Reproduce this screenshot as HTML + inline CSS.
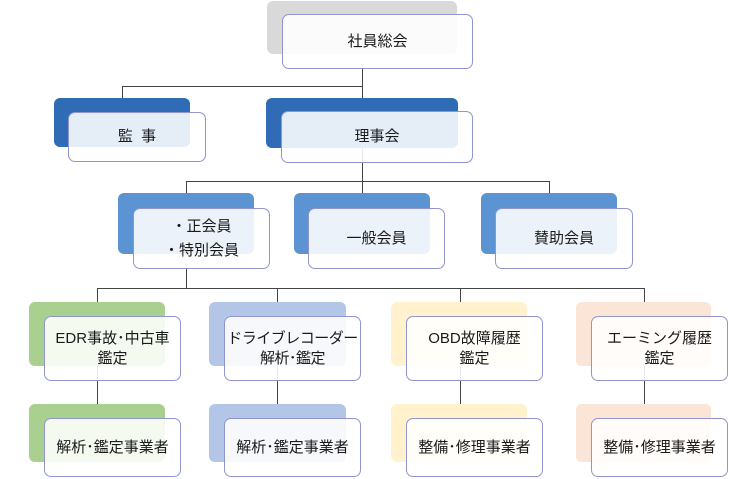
<!DOCTYPE html>
<html><head><meta charset="utf-8"><style>
body{margin:0;width:754px;height:479px;background:#fff;position:relative;overflow:hidden;font-family:"Liberation Sans","Noto Sans CJK JP",sans-serif;}
.b{position:absolute;border-radius:6px;}
.w{position:absolute;border-radius:7px;background:rgba(255,255,255,0.88);border:1.3px solid #9095d0;box-sizing:border-box;display:flex;align-items:center;justify-content:center;text-align:center;font-size:15px;line-height:20px;color:#1a1a1a;}
.l{position:absolute;background:#444;}
</style></head><body>
<div class="l" style="left:362px;top:69px;width:1px;height:124px"></div>
<div class="l" style="left:122px;top:86px;width:241px;height:1px"></div>
<div class="l" style="left:122px;top:86px;width:1px;height:12px"></div>
<div class="l" style="left:186px;top:181px;width:364px;height:1px"></div>
<div class="l" style="left:186px;top:181px;width:1px;height:12px"></div>
<div class="l" style="left:549px;top:181px;width:1px;height:12px"></div>
<div class="l" style="left:186px;top:269px;width:1px;height:20px"></div>
<div class="l" style="left:97px;top:288px;width:548px;height:1px"></div>
<div class="l" style="left:97px;top:288px;width:1px;height:130px"></div>
<div class="l" style="left:277px;top:288px;width:1px;height:130px"></div>
<div class="l" style="left:460px;top:288px;width:1px;height:130px"></div>
<div class="l" style="left:644px;top:288px;width:1px;height:130px"></div>

<div class="b" style="left:267px;top:1px;width:190px;height:53px;background:#d9d9d9"></div>
<div class="w" style="left:282px;top:14px;width:191px;height:55px">社員総会</div>

<div class="b" style="left:54px;top:98px;width:136px;height:49px;background:#2f6cb5"></div>
<div class="w" style="left:68px;top:112px;width:138px;height:50px">監&nbsp;&nbsp;事</div>
<div class="b" style="left:266px;top:98px;width:192px;height:50px;background:#2f6cb5"></div>
<div class="w" style="left:281px;top:111px;width:192px;height:52px">理事会</div>

<div class="b" style="left:118px;top:193px;width:136px;height:61px;background:#5b93d3"></div>
<div class="w" style="left:133px;top:208px;width:137px;height:61px;line-height:24px">・正会員<br>・特別会員</div>
<div class="b" style="left:294px;top:193px;width:136px;height:61px;background:#5b93d3"></div>
<div class="w" style="left:308px;top:208px;width:137px;height:61px">一般会員</div>
<div class="b" style="left:481px;top:193px;width:136px;height:61px;background:#5b93d3"></div>
<div class="w" style="left:495px;top:208px;width:138px;height:61px">賛助会員</div>

<div class="b" style="left:29px;top:302px;width:136px;height:64px;background:#a9d08e"></div>
<div class="w" style="left:44px;top:316px;width:137px;height:65px">EDR事故･中古車<br>鑑定</div>
<div class="b" style="left:209px;top:302px;width:137px;height:64px;background:#b4c6e7"></div>
<div class="w" style="left:224px;top:316px;width:137px;height:65px;letter-spacing:-0.5px">ドライブレコーダー<br>解析･鑑定</div>
<div class="b" style="left:391px;top:302px;width:136px;height:64px;background:#fff2cc"></div>
<div class="w" style="left:406px;top:316px;width:137px;height:65px">OBD故障履歴<br>鑑定</div>
<div class="b" style="left:576px;top:302px;width:135px;height:64px;background:#fbe5d6"></div>
<div class="w" style="left:591px;top:316px;width:137px;height:65px">エーミング履歴<br>鑑定</div>

<div class="b" style="left:29px;top:404px;width:136px;height:58px;background:#a9d08e"></div>
<div class="w" style="left:44px;top:418px;width:137px;height:59px">解析･鑑定事業者</div>
<div class="b" style="left:209px;top:404px;width:137px;height:58px;background:#b4c6e7"></div>
<div class="w" style="left:224px;top:418px;width:137px;height:59px">解析･鑑定事業者</div>
<div class="b" style="left:391px;top:404px;width:136px;height:58px;background:#fff2cc"></div>
<div class="w" style="left:406px;top:418px;width:137px;height:59px">整備･修理事業者</div>
<div class="b" style="left:576px;top:404px;width:135px;height:58px;background:#fbe5d6"></div>
<div class="w" style="left:591px;top:418px;width:137px;height:59px">整備･修理事業者</div>
</body></html>
